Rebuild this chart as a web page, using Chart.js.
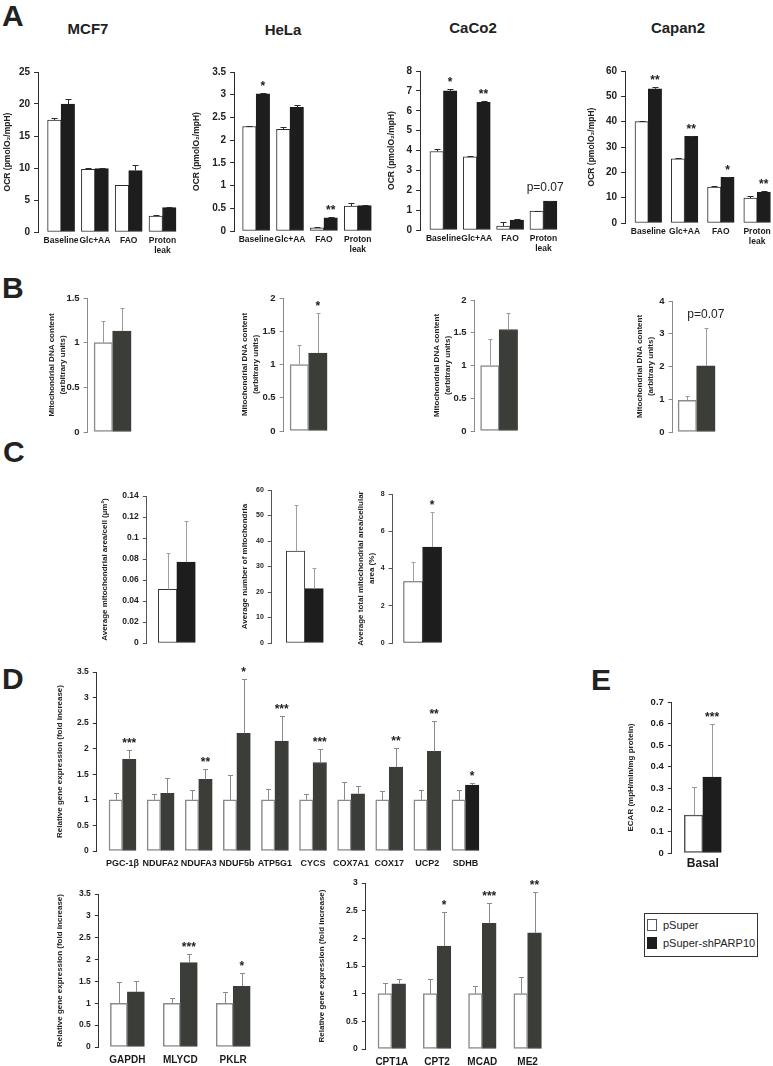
<!DOCTYPE html>
<html lang="en">
<head>
<meta charset="UTF-8">
<title>PARP10 knockdown - mitochondrial function</title>
<script src="https://cdn.jsdelivr.net/npm/chart.js"></script>
<style>
  body { margin: 0; background: #fff; font-family: 'Liberation Sans', Arial, sans-serif; color: #222; }
  #fig { position: relative; width: 773px; height: 1066px; overflow: hidden; }
  #fig canvas { position: absolute; }
  .letter { position: absolute; font-weight: bold; font-size: 30px; line-height: 1; }
  .cell { position: absolute; font-weight: bold; font-size: 15px; line-height: 1; transform: translateX(-50%); white-space: nowrap; }
  .legend { position: absolute; left: 644px; top: 913px; width: 114px; height: 44px; box-sizing: border-box; border: 1.5px solid #333; font-size: 11px; }
  .legend .sw { position: absolute; left: 2px; width: 10px; height: 12px; box-sizing: border-box; border: 1px solid #555; }
  .legend .tx { position: absolute; left: 18px; line-height: 12px; }
</style>
</head>
<body>
<div id="fig">
  <div class="letter" style="left:2px;top:1px">A</div>
  <div class="letter" style="left:2px;top:273px">B</div>
  <div class="letter" style="left:3px;top:437px">C</div>
  <div class="letter" style="left:2px;top:664px">D</div>
  <div class="letter" style="left:591px;top:665px">E</div>

  <div class="cell" style="left:88px;top:21px">MCF7</div>
  <div class="cell" style="left:283px;top:22px">HeLa</div>
  <div class="cell" style="left:473px;top:20px">CaCo2</div>
  <div class="cell" style="left:678px;top:20px">Capan2</div>

  <div class="legend">
    <span class="sw" style="top:5px;background:#fff"></span><span class="tx" style="top:5px">pSuper</span>
    <span class="sw" style="top:23px;background:#1d1d1d;border-color:#1d1d1d"></span><span class="tx" style="top:23px">pSuper-shPARP10</span>
  </div>
</div>
<script>
// ---- A: oxygen consumption rate ----
const ocrCats = ['Baseline', 'Glc+AA', 'FAO', ['Proton', 'leak']];
const mcf7Ctrl = [17.5, 9.8, 7.3, 2.5];
const mcf7Kd = [20.0, 9.9, 9.6, 3.8];
const mcf7CtrlErr = [0.3, 0.2, 0.1, 0.15];
const mcf7KdErr = [0.85, 0.15, 0.8, 0.05];
const helaCtrl = [2.3, 2.24, 0.07, 0.55];
const helaKd = [3.02, 2.72, 0.29, 0.56];
const helaCtrlErr = [0.01, 0.06, 0.01, 0.07];
const helaKdErr = [0.01, 0.05, 0.02, 0.01];
const helaSig = ['*', '', '**', ''];
const caco2Ctrl = [3.95, 3.68, 0.2, 0.95];
const caco2Kd = [7.0, 6.42, 0.5, 1.45];
const caco2CtrlErr = [0.15, 0.03, 0.18, 0.02];
const caco2KdErr = [0.08, 0.08, 0.07, 0.03];
const caco2Sig = ['*', '**', '', 'p=0.07'];
const capan2Ctrl = [40, 25.3, 14.2, 9.8];
const capan2Kd = [53, 34.2, 18, 12.2];
const capan2CtrlErr = [0.2, 0.3, 0.6, 0.7];
const capan2KdErr = [0.5, 0.2, 0.3, 0.3];
const capan2Sig = ['**', '**', '*', '**'];

// ---- B: mtDNA content (MCF7, HeLa, CaCo2, Capan2) ----
const mtdnaCtrl = [1.0, 1.0, 1.0, 0.97];
const mtdnaKd = [1.13, 1.17, 1.55, 2.02];
const mtdnaCtrlErr = [0.24, 0.3, 0.4, 0.12];
const mtdnaKdErr = [0.26, 0.61, 0.25, 1.17];
const mtdnaSig = ['', '*', '', 'p=0.07'];

// ---- C: morphometry (area/cell, number, total area) ----
const morphCtrl = [0.051, 36, 3.3];
const morphKd = [0.077, 21.3, 5.15];
const morphCtrlErr = [0.035, 18.3, 1.07];
const morphKdErr = [0.039, 8, 1.88];
const morphSig = ['', '', '*'];

// ---- D: gene expression ----
const oxGenes = ['PGC-1β', 'NDUFA2', 'NDUFA3', 'NDUF5b', 'ATP5G1', 'CYCS', 'COX7A1', 'COX17', 'UCP2', 'SDHB'];
const oxCtrl = [1, 1, 1, 1, 1, 1, 1, 1, 1, 1];
const oxKd = [1.79, 1.13, 1.4, 2.3, 2.15, 1.73, 1.12, 1.64, 1.95, 1.29];
const oxCtrlErr = [0.13, 0.11, 0.19, 0.49, 0.22, 0.12, 0.34, 0.18, 0.19, 0.19];
const oxKdErr = [0.19, 0.29, 0.2, 1.07, 0.48, 0.26, 0.16, 0.38, 0.6, 0.04];
const oxSig = ['***', '', '**', '*', '***', '***', '', '**', '**', '*'];

const glyGenes = ['GAPDH', 'MLYCD', 'PKLR'];
const glyCtrl = [1, 1, 1];
const glyKd = [1.26, 1.93, 1.39];
const glyCtrlErr = [0.49, 0.11, 0.26];
const glyKdErr = [0.24, 0.2, 0.31];
const glySig = ['', '***', '*'];

const faoGenes = ['CPT1A', 'CPT2', 'MCAD', 'ME2'];
const faoCtrl = [1, 1, 1, 1];
const faoKd = [1.18, 1.86, 2.27, 2.1];
const faoCtrlErr = [0.2, 0.26, 0.13, 0.3];
const faoKdErr = [0.08, 0.62, 0.36, 0.73];
const faoSig = ['', '*', '***', '**'];

// ---- E: ECAR ----
const ecarCats = ['Basal'];
const ecarCtrl = [0.176];
const ecarKd = [0.352];
const ecarCtrlErr = [0.128];
const ecarKdErr = [0.248];
const ecarSig = ['***'];

const sans = "'Liberation Sans', Arial, sans-serif";
const narrow = "'Liberation Sans Narrow', 'Arial Narrow', 'Liberation Sans', sans-serif";
Chart.defaults.font.family = sans;
Chart.defaults.color = '#222';

const looks = {
  A: { axis: '#2b2b2b', edge: '#2b2b2b', edgeW: 1, dark: '#1d1d1d', err: '#2b2b2b', cap: 3, tick: 10, title: 8.5, titleFam: sans, cat: 8.5, catPad: 4 },
  B: { axis: '#8a8a8a', edge: '#8a8a8a', edgeW: 1.5, dark: '#3b3d38', err: '#9a9a9a', cap: 2, tick: 9.5, title: 8, titleFam: narrow, cat: 8, catPad: 4 },
  C: { axis: '#555', edge: '#333', edgeW: 1, dark: '#1d1d1d', err: '#a0a0a0', cap: 2, tick: 8.5, title: 8, titleFam: narrow, cat: 8, catPad: 4 },
  D: { axis: '#333', edge: '#8a8a8a', edgeW: 1.5, dark: '#3b3d38', err: '#8a8a8a', cap: 2.5, tick: 8.5, title: 8, titleFam: narrow, cat: 9, catPad: 7 },
  E: { axis: '#333', edge: '#555', edgeW: 1.5, dark: '#1d1d1d', err: '#9a9a9a', cap: 2.5, tick: 9.5, title: 8, titleFam: narrow, cat: 12, catPad: 4 }
};

const ocrTitle = 'OCR (pmolO₂/mpH)';
const mtTitle = ['Mitochondrial DNA content', '(arbitrary units)'];
const geneTitle = 'Relative gene expression (fold increase)';
const pick = (arr, i) => [arr[i]];

const panels = [
  { look: 'A', cats: ocrCats, ctrl: mcf7Ctrl, kd: mcf7Kd, ctrlErr: mcf7CtrlErr, kdErr: mcf7KdErr, sig: [], yMax: 25, step: 5, title: ocrTitle, box: { L: 38, T: 72, B: 232, R: 180, tx: 8 }, xr: [-0.68, 3.52], bw: 13.5 },
  { look: 'A', cats: ocrCats, ctrl: helaCtrl, kd: helaKd, ctrlErr: helaCtrlErr, kdErr: helaKdErr, sig: helaSig, yMax: 3.5, step: 0.5, title: ocrTitle, box: { L: 234, T: 72, B: 231, R: 376, tx: 197 }, xr: [-0.65, 3.54], bw: 13.5 },
  { look: 'A', cats: ocrCats, ctrl: caco2Ctrl, kd: caco2Kd, ctrlErr: caco2CtrlErr, kdErr: caco2KdErr, sig: caco2Sig, pShift: -5, yMax: 8, step: 1, title: ocrTitle, box: { L: 420, T: 71, B: 230, R: 562, tx: 392 }, xr: [-0.70, 3.56], bw: 13.5 },
  { look: 'A', cats: ocrCats, ctrl: capan2Ctrl, kd: capan2Kd, ctrlErr: capan2CtrlErr, kdErr: capan2KdErr, sig: capan2Sig, yMax: 60, step: 10, title: ocrTitle, box: { L: 625, T: 71, B: 223, R: 773, tx: 592 }, xr: [-0.64, 3.43], bw: 13.3, padR: 2 },

  { look: 'B', cats: [''], ctrl: pick(mtdnaCtrl, 0), kd: pick(mtdnaKd, 0), ctrlErr: pick(mtdnaCtrlErr, 0), kdErr: pick(mtdnaKdErr, 0), sig: pick(mtdnaSig, 0), yMax: 1.5, step: 0.5, title: mtTitle, box: { L: 88, T: 298, B: 432, R: 138, tx: 52 }, xr: [-1, 1], bw: 18.5 },
  { look: 'B', cats: [''], ctrl: pick(mtdnaCtrl, 1), kd: pick(mtdnaKd, 1), ctrlErr: pick(mtdnaCtrlErr, 1), kdErr: pick(mtdnaKdErr, 1), sig: pick(mtdnaSig, 1), yMax: 2, step: 0.5, title: mtTitle, box: { L: 284, T: 298, B: 431, R: 334, tx: 245 }, xr: [-1, 1], bw: 18.5 },
  { look: 'B', cats: [''], ctrl: pick(mtdnaCtrl, 2), kd: pick(mtdnaKd, 2), ctrlErr: pick(mtdnaCtrlErr, 2), kdErr: pick(mtdnaKdErr, 2), sig: pick(mtdnaSig, 2), yMax: 2, step: 0.5, title: mtTitle, box: { L: 475, T: 300, B: 431, R: 524, tx: 437 }, xr: [-1, 1], bw: 18.5 },
  { look: 'B', cats: [''], ctrl: pick(mtdnaCtrl, 3), kd: pick(mtdnaKd, 3), ctrlErr: pick(mtdnaCtrlErr, 3), kdErr: pick(mtdnaKdErr, 3), sig: pick(mtdnaSig, 3), yMax: 4, step: 1, title: mtTitle, box: { L: 673, T: 301, B: 432, R: 721, tx: 640 }, xr: [-1, 1], bw: 18.5 },

  { look: 'C', cats: [''], ctrl: pick(morphCtrl, 0), kd: pick(morphKd, 0), ctrlErr: pick(morphCtrlErr, 0), kdErr: pick(morphKdErr, 0), sig: pick(morphSig, 0), yMax: 0.14, step: 0.02, title: 'Average mitochondrial area/cell (µm²)', box: { L: 147, T: 496, B: 643, R: 207, tx: 105 }, xr: [-1, 1], bw: 18.5 },
  { look: 'C', cats: [''], ctrl: pick(morphCtrl, 1), kd: pick(morphKd, 1), ctrlErr: pick(morphCtrlErr, 1), kdErr: pick(morphKdErr, 1), sig: pick(morphSig, 1), yMax: 60, step: 10, tickSize: 7, title: 'Average number of mitochondria', box: { L: 272, T: 490, B: 643, R: 338, tx: 245 }, xr: [-1, 1], bw: 18.5 },
  { look: 'C', cats: [''], ctrl: pick(morphCtrl, 2), kd: pick(morphKd, 2), ctrlErr: pick(morphCtrlErr, 2), kdErr: pick(morphKdErr, 2), sig: pick(morphSig, 2), yMax: 8, step: 2, tickSize: 7, title: ['Average total mitochondrial area/cellular', 'area (%)'], box: { L: 393, T: 494, B: 643, R: 453, tx: 361 }, xr: [-1, 1], bw: 19 },

  { look: 'D', cats: oxGenes, ctrl: oxCtrl, kd: oxKd, ctrlErr: oxCtrlErr, kdErr: oxKdErr, sig: oxSig, yMax: 3.5, step: 0.5, title: geneTitle, box: { L: 97, T: 672, B: 851, R: 490, tx: 60 }, xr: [-0.675, 9.64], bw: 13.5,
    kdColor: oxGenes.map(g => g === 'SDHB' ? '#1d1d1d' : '#3b3d38') },
  { look: 'E', cats: ecarCats, ctrl: ecarCtrl, kd: ecarKd, ctrlErr: ecarCtrlErr, kdErr: ecarKdErr, sig: ecarSig, yMax: 0.7, step: 0.1, title: 'ECAR (mpH/min/mg protein)', box: { L: 672, T: 702, B: 853, R: 734, tx: 631 }, xr: [-1, 1], bw: 18.5 },
  { look: 'D', cats: glyGenes, ctrl: glyCtrl, kd: glyKd, ctrlErr: glyCtrlErr, kdErr: glyKdErr, sig: glySig, catSize: 10, yMax: 3.5, step: 0.5, title: geneTitle, box: { L: 99, T: 894, B: 1047, R: 262, tx: 60 }, xr: [-0.54, 2.54], bw: 17 },
  { look: 'D', cats: faoGenes, ctrl: faoCtrl, kd: faoKd, ctrlErr: faoCtrlErr, kdErr: faoKdErr, sig: faoSig, catSize: 10, yMax: 3, step: 0.5, title: geneTitle, box: { L: 366, T: 883, B: 1049, R: 550, tx: 322 }, xr: [-0.574, 3.49], bw: 13.8 }
];

// error bars + significance marks, drawn from the y scale
const errorBars = {
  id: 'errorBars',
  afterDatasetsDraw(chart, args, o) {
    const ctx = chart.ctx, y = chart.scales.y;
    ctx.save();
    ctx.strokeStyle = o.color;
    ctx.lineWidth = 1;
    chart.data.datasets.forEach((ds, d) => {
      chart.getDatasetMeta(d).data.forEach((bar, i) => {
        const e = ds.errors[i];
        if (!e) return;
        const x = Math.round(bar.x) + 0.5;
        const top = Math.round(y.getPixelForValue(ds.data[i].y + e)) + 0.5;
        ctx.beginPath();
        ctx.moveTo(x, bar.y);
        ctx.lineTo(x, top);
        ctx.moveTo(x - o.cap, top);
        ctx.lineTo(x + o.cap, top);
        ctx.stroke();
      });
    });
    const kd = chart.data.datasets[1];
    chart.getDatasetMeta(1).data.forEach((bar, i) => {
      const t = o.sig[i];
      if (!t) return;
      const top = y.getPixelForValue(kd.data[i].y + kd.errors[i]);
      const isP = t[0] === 'p';
      ctx.font = (isP ? '12px ' : 'bold 12px ') + sans;
      ctx.fillStyle = '#222';
      ctx.textAlign = 'center';
      ctx.textBaseline = 'alphabetic';
      ctx.fillText(t, bar.x + (isP ? o.pShift : 0), top - (isP ? 10 : 3));
    });
    ctx.restore();
  }
};

const fig = document.getElementById('fig');
const toPts = arr => arr.map((v, i) => ({ x: i, y: v }));

panels.forEach(p => {
  const s = looks[p.look];
  const bx = p.box;
  const titleLH = Array.isArray(p.title) ? 1.4 : 1.2;
  const left = bx.tx - s.title * titleLH / 2;
  const yw = bx.L - left;
  const padT = 14, xh = 32, padR = p.padR ?? 14;
  const W = Math.round(yw + (bx.R - bx.L) + padR);
  const H = Math.round(padT + (bx.B - bx.T) + xh);
  const cv = document.createElement('canvas');
  cv.width = W; cv.height = H;
  cv.style.left = left + 'px';
  cv.style.top = (bx.T - padT) + 'px';
  cv.style.width = W + 'px';
  cv.style.height = H + 'px';
  fig.appendChild(cv);

  new Chart(cv, {
    type: 'bar',
    data: {
      datasets: [
        { label: 'pSuper', data: toPts(p.ctrl), errors: p.ctrlErr, backgroundColor: '#fff', borderColor: s.edge, borderWidth: s.edgeW, borderSkipped: false, barThickness: p.bw },
        { label: 'pSuper-shPARP10', data: toPts(p.kd), errors: p.kdErr, backgroundColor: p.kdColor || s.dark, borderColor: p.kdColor || s.dark, borderWidth: 1, borderSkipped: false, barThickness: p.bw }
      ]
    },
    options: {
      responsive: false,
      animation: false,
      layout: { padding: { top: padT, right: W - yw - (bx.R - bx.L), left: 0, bottom: 0 } },
      plugins: {
        legend: { display: false },
        tooltip: { enabled: false },
        errorBars: { color: s.err, cap: s.cap, sig: p.sig, pShift: p.pShift || 0 }
      },
      scales: {
        x: {
          type: 'linear', min: p.xr[0], max: p.xr[1], offset: false,
          grid: { display: false, drawTicks: false },
          border: { display: false },
          afterBuildTicks: sc => { sc.ticks = p.cats.map((_, i) => ({ value: i })); },
          afterFit: sc => { sc.height = xh; },
          ticks: {
            autoSkip: false, maxRotation: 0, padding: s.catPad, color: '#1a1a1a',
            font: { size: p.catSize || s.cat, weight: 'bold', lineHeight: 1.15 },
            callback: v => p.cats[v]
          }
        },
        y: {
          min: 0, max: p.yMax,
          grid: { drawOnChartArea: false, color: s.axis, tickLength: 4 },
          border: { color: s.axis, width: 1 },
          afterFit: sc => { sc.width = yw; },
          ticks: {
            stepSize: p.step, padding: 4, color: '#222',
            font: { size: p.tickSize || s.tick, weight: 'bold' },
            callback: v => String(+v.toFixed(4))
          },
          title: {
            display: true, text: p.title, padding: 0, color: '#222',
            font: { family: s.titleFam, size: s.title, weight: 'bold', lineHeight: titleLH }
          }
        }
      }
    },
    plugins: [errorBars]
  });
});
</script>
</body>
</html>
